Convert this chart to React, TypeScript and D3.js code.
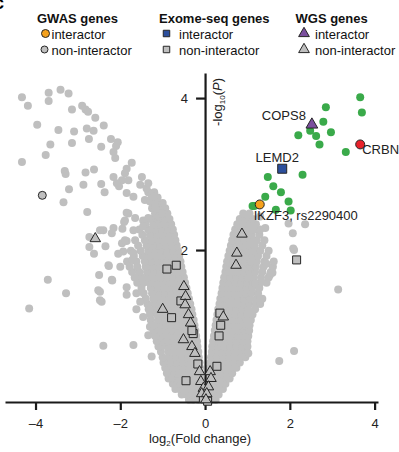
import { useEffect, useRef } from 'react';
import * as d3 from 'd3';

// left arm of the volcano, one row per -log10(P) level: [y, x values]
const grayLeftRows: [number, number[]][] = [
    [0.03, [-0.04, -0.16, -0.28, -0.38]],
    [0.1, [-0.06, -0.19, -0.31, -0.44, -0.55]],
    [0.17, [-0.07, -0.2, -0.33, -0.47, -0.6, -0.7]],
    [0.24, [-0.08, -0.22, -0.36, -0.5, -0.63, -0.76]],
    [0.31, [-0.1, -0.24, -0.38, -0.52, -0.66, -0.8, -0.86]],
    [0.38, [-0.11, -0.25, -0.39, -0.53, -0.67, -0.8, -0.9]],
    [0.45, [-0.12, -0.26, -0.4, -0.54, -0.68, -0.82, -0.94]],
    [0.52, [-0.13, -0.27, -0.41, -0.55, -0.69, -0.83, -0.98]],
    [0.59, [-0.15, -0.29, -0.43, -0.57, -0.71, -0.85, -1.0]],
    [0.66, [-0.16, -0.3, -0.44, -0.58, -0.72, -0.86, -1.04]],
    [0.73, [-0.18, -0.32, -0.46, -0.6, -0.74, -0.88, -1.02, -1.1]],
    [0.8, [-0.19, -0.33, -0.47, -0.61, -0.75, -0.89, -1.03, -1.14]],
    [0.87, [-0.21, -0.35, -0.49, -0.63, -0.77, -0.91, -1.05, -1.18]],
    [0.94, [-0.23, -0.37, -0.51, -0.65, -0.79, -0.93, -1.07, -1.22]],
    [1.01, [-0.25, -0.39, -0.53, -0.67, -0.81, -0.95, -1.09, -1.25]],
    [1.08, [-0.27, -0.41, -0.55, -0.69, -0.83, -0.97, -1.11, -1.28]],
    [1.15, [-0.3, -0.44, -0.58, -0.72, -0.86, -1.0, -1.14, -1.3]],
    [1.22, [-0.32, -0.46, -0.6, -0.74, -0.88, -1.02, -1.16, -1.33]],
    [1.29, [-0.35, -0.49, -0.63, -0.77, -0.91, -1.05, -1.19, -1.36]],
    [1.36, [-0.38, -0.52, -0.66, -0.8, -0.94, -1.08, -1.22, -1.4]],
    [1.43, [-0.41, -0.55, -0.69, -0.83, -0.97, -1.11, -1.25, -1.45, -1.62]],
    [1.5, [-0.44, -0.58, -0.72, -0.86, -1.0, -1.14, -1.28, -1.5]],
    [1.57, [-0.47, -0.61, -0.75, -0.89, -1.03, -1.17, -1.31, -1.45, -1.6]],
    [1.64, [-0.5, -0.64, -0.78, -0.92, -1.06, -1.2, -1.34, -1.5, -1.66]],
    [1.71, [-0.53, -0.67, -0.81, -0.95, -1.09, -1.23, -1.37, -1.55, -1.72]],
    [1.78, [-0.56, -0.7, -0.84, -0.98, -1.12, -1.26, -1.4, -1.6, -1.78]],
    [1.85, [-0.58, -0.72, -0.86, -1.0, -1.14, -1.28, -1.42, -1.62, -1.84]],
    [1.92, [-0.61, -0.75, -0.89, -1.03, -1.17, -1.31, -1.47, -1.68]],
    [1.99, [-0.64, -0.78, -0.92, -1.06, -1.2, -1.34, -1.52, -1.75]],
    [2.06, [-0.67, -0.81, -0.95, -1.09, -1.23, -1.38, -1.58]],
    [2.13, [-0.7, -0.84, -0.98, -1.12, -1.26, -1.42, -1.65]],
    [2.2, [-0.73, -0.87, -1.01, -1.15, -1.3, -1.48]],
    [2.27, [-0.76, -0.9, -1.04, -1.18, -1.34, -1.55]],
    [2.34, [-0.8, -0.94, -1.08, -1.22, -1.4]],
    [2.41, [-0.84, -0.98, -1.12, -1.28]],
    [2.48, [-0.89, -1.03, -1.18]],
    [2.55, [-0.94, -1.08, -1.25]],
    [2.62, [-1.0, -1.15]],
    [2.69, [-1.12, -1.26]],
    [2.76, [-1.2, -1.34]],
];

// right arm of the volcano
const grayRightRows: [number, number[]][] = [
    [0.03, [0.03, 0.15, 0.25]],
    [0.1, [0.05, 0.18, 0.32]],
    [0.17, [0.06, 0.19, 0.33, 0.42]],
    [0.24, [0.08, 0.21, 0.35, 0.48]],
    [0.31, [0.09, 0.22, 0.36, 0.5, 0.58]],
    [0.38, [0.1, 0.24, 0.38, 0.52, 0.64]],
    [0.45, [0.11, 0.25, 0.39, 0.53, 0.67, 0.74]],
    [0.52, [0.13, 0.27, 0.41, 0.55, 0.69, 0.82]],
    [0.59, [0.14, 0.28, 0.42, 0.56, 0.7, 0.84, 0.95]],
    [0.66, [0.16, 0.3, 0.44, 0.58, 0.72, 0.86, 0.98]],
    [0.73, [0.17, 0.31, 0.45, 0.59, 0.73, 0.87, 1.0]],
    [0.8, [0.19, 0.33, 0.47, 0.61, 0.75, 0.89, 1.0]],
    [0.87, [0.21, 0.35, 0.49, 0.63, 0.77, 0.91, 1.02]],
    [0.94, [0.23, 0.37, 0.51, 0.65, 0.79, 0.93, 1.04]],
    [1.01, [0.25, 0.39, 0.53, 0.67, 0.81, 0.95, 1.05]],
    [1.08, [0.27, 0.41, 0.55, 0.69, 0.83, 0.97, 1.08]],
    [1.15, [0.29, 0.43, 0.57, 0.71, 0.85, 0.99, 1.12]],
    [1.22, [0.31, 0.45, 0.59, 0.73, 0.87, 1.01, 1.18]],
    [1.29, [0.34, 0.48, 0.62, 0.76, 0.9, 1.04, 1.2, 1.3]],
    [1.36, [0.36, 0.5, 0.64, 0.78, 0.92, 1.06, 1.22, 1.35]],
    [1.43, [0.39, 0.53, 0.67, 0.81, 0.95, 1.09, 1.25]],
    [1.5, [0.41, 0.55, 0.69, 0.83, 0.97, 1.11, 1.28]],
    [1.57, [0.43, 0.57, 0.71, 0.85, 0.99, 1.13, 1.3, 1.45]],
    [1.64, [0.45, 0.59, 0.73, 0.87, 1.01, 1.15, 1.32, 1.5]],
    [1.71, [0.48, 0.62, 0.76, 0.9, 1.04, 1.18, 1.35, 1.55]],
    [1.78, [0.5, 0.64, 0.78, 0.92, 1.06, 1.2, 1.38, 1.6]],
    [1.85, [0.52, 0.66, 0.8, 0.94, 1.08, 1.22, 1.4, 1.62]],
    [1.92, [0.55, 0.69, 0.83, 0.97, 1.11, 1.25, 1.45]],
    [1.99, [0.58, 0.72, 0.86, 1.0, 1.14, 1.3, 1.5]],
    [2.06, [0.61, 0.75, 0.89, 1.03, 1.17, 1.35]],
    [2.13, [0.64, 0.78, 0.92, 1.06, 1.22, 1.4]],
    [2.2, [0.67, 0.81, 0.95, 1.1, 1.28]],
    [2.27, [0.71, 0.85, 0.99, 1.15, 1.3]],
    [2.34, [0.76, 0.9, 1.05, 1.2]],
    [2.41, [0.82, 0.96, 1.12]],
    [2.48, [0.9, 1.05]],
];

// scattered grey genes outside the dense arms
const graySparse: [number, number][] = [
    [-4.32, 4.01], [-4.18, 3.9], [-3.69, 4.07], [-3.69, 3.96], [-3.41, 4.11],
    [-3.22, 4.06], [-3.14, 3.85], [-2.9, 3.9], [-2.82, 3.85], [-2.76, 3.82],
    [-2.59, 3.74], [-3.96, 3.65], [-3.46, 3.58], [-3.09, 3.56], [-2.79, 3.6],
    [-2.63, 3.57], [-2.39, 3.64], [-3.14, 3.41], [-2.74, 3.46], [-2.45, 3.36],
    [-3.65, 3.39], [-3.76, 3.25], [-2.22, 3.46], [-2.06, 3.42], [-2.1, 3.37],
    [-2.16, 3.29], [-2.12, 3.21], [-4.32, 3.16], [-3.31, 3.04], [-3.29, 3.0],
    [-2.82, 3.02], [-2.62, 3.06], [-3.21, 2.8], [-2.87, 2.86], [-2.45, 2.87],
    [-2.37, 2.76], [-2.16, 2.96], [-2.03, 2.84], [-1.96, 2.92], [-1.89, 3.01],
    [-1.85, 3.07], [-1.73, 3.15], [-2.08, 2.88], [-1.85, 2.75], [-1.69, 2.7],
    [-1.81, 2.92], [-1.53, 2.86], [-1.38, 2.81], [-1.49, 2.96], [-1.34, 2.88],
    [-1.42, 2.66], [-1.3, 2.64], [-1.22, 2.7], [-1.18, 2.59], [-1.14, 2.53],
    [-1.81, 2.48], [-1.65, 2.42], [-1.89, 2.39], [-1.46, 2.39], [-1.34, 2.42],
    [-1.1, 2.44], [-1.02, 2.48], [-1.46, 2.31], [-1.69, 2.26], [-2.16, 2.29],
    [-2.4, 2.26], [-3.34, 2.63], [-2.78, 2.5], [-2.48, 2.26], [-2.73, 2.17],
    [-2.73, 2.04], [-2.62, 1.95], [-2.2, 2.22], [-1.95, 2.28], [-1.91, 2.37],
    [-1.85, 2.49], [-1.96, 2.09], [-1.85, 2.12], [-2.27, 1.79], [-2.5, 1.67],
    [-2.19, 1.6], [-3.71, 1.61], [-2.52, 1.47], [-3.28, 1.43], [-2.44, 1.32],
    [-1.85, 1.51], [-4.15, 1.23], [-1.89, 2.13], [-1.93, 1.98], [-1.69, 1.96],
    [-2.28, 1.8], [-2.0, 1.78], [-2.48, 1.45], [-2.2, 1.61], [-1.85, 1.41],
    [-2.48, 1.34], [-1.53, 1.32], [-1.46, 1.12], [-1.3, 1.21], [-1.3, 0.99],
    [-2.4, 0.74], [-1.69, 0.75], [-1.26, 0.6], [-1.34, 0.88], [-1.22, 1.01],
    [-1.62, 1.22], [-2.05, 1.95], [-1.72, 1.87], [-2.35, 2.05],
    [1.53, 1.67], [1.59, 1.7], [1.31, 1.34], [1.1, 1.19], [1.02, 0.64],
    [1.75, 0.54], [2.1, 0.67], [1.18, 1.56], [1.45, 1.82], [2.1, 2.0],
    [2.07, 2.22], [2.08, 2.02], [2.36, 2.34], [3.14, 1.48], [1.02, 2.46],
    [1.3, 2.44], [1.97, 2.35], [1.42, 2.29], [1.1, 2.31],
];

// genes with significant change (green)
const significant: [number, number][] = [
    [3.66, 4.01], [3.7, 3.81], [2.85, 3.88], [2.79, 3.69], [2.97, 3.55],
    [2.62, 3.5], [2.48, 3.57], [2.2, 3.51], [2.7, 3.39], [3.32, 3.29],
    [2.3, 2.99], [1.48, 2.96], [1.61, 2.84], [1.79, 2.76], [1.42, 2.7],
    [1.16, 2.58], [1.12, 2.58], [1.67, 2.53], [1.97, 2.64], [2.02, 2.52],
];

const gwasInteractor: [number, number][] = [[1.29, 2.6]];
const gwasNonInteractor: [number, number][] = [[-3.84, 2.72]];
const exomeInteractor: [number, number][] = [[1.82, 3.07]];
const exomeNonInteractor: [number, number][] = [
    [-0.9, 1.75], [-0.68, 1.8], [-0.57, 1.33], [-0.79, 1.11], [-0.28, 0.9],
    [-0.31, 0.94], [-0.17, 0.5], [-0.45, 0.28], [-0.04, 0.05], [0.06, 0.01],
    [0.35, 1.17], [0.37, 1.01], [0.33, 0.87], [0.28, 0.47], [2.16, 1.87],
];
const wgsInteractor: [number, number][] = [[2.52, 3.65]];
const wgsNonInteractor: [number, number][] = [
    [-2.59, 2.15], [-0.5, 1.52], [-0.46, 1.39], [-0.47, 1.28], [-1.0, 1.22],
    [-0.39, 1.15], [-0.34, 1.04], [-0.51, 0.82], [-0.31, 0.73], [-0.24, 0.64],
    [-0.13, 0.4], [-0.1, 0.27], [-0.04, 0.18], [-0.08, 0.11], [0.12, 0.4],
    [0.14, 0.31], [0.08, 0.2], [0.04, 0.11], [0.02, 0.03], [0.43, 1.12],
    [0.75, 1.96], [0.73, 1.8], [0.87, 2.21],
];
const crbn: [number, number][] = [[3.66, 3.39]];

const geneNames = ['COPS8', 'CRBN', 'LEMD2', 'IKZF3, rs2290400'];
const geneValues: [number, number][] = [[2.52, 3.65], [3.66, 3.39], [1.82, 3.07], [1.29, 2.6]];

const xTicks = [-4, -2, 0, 2, 4];
const yTicks = [2, 4];

const font = "'Liberation Sans', Arial, Helvetica, sans-serif";
const grey = '#bfbfbf';
const green = '#3aaa4a';
const edge = '#262626';

const width = 399;
const height = 452;

const x = d3.scaleLinear().domain([-4.72, 4.08]).range([5, 378]);
const y = d3.scaleLinear().domain([0, 4.33]).range([402, 73]);

const App = () => {
    const svgRef = useRef<SVGSVGElement>(null);

    useEffect(() => {
        const svg = d3.select(svgRef.current);
        svg.selectAll('*').remove();
        svg.style('font-family', font);

        const grayPoints = [
            ...grayLeftRows.flatMap(([yv, xs]) => xs.map(xv => [xv, yv])),
            ...grayRightRows.flatMap(([yv, xs]) => xs.map(xv => [xv, yv])),
            ...graySparse,
        ];

        // background genes
        svg.append('g')
            .selectAll('circle')
            .data(grayPoints)
            .join('circle')
            .attr('cx', d => x(d[0]))
            .attr('cy', d => y(d[1]))
            .attr('r', 4)
            .attr('fill', grey);

        svg.append('g')
            .selectAll('circle')
            .data(significant)
            .join('circle')
            .attr('cx', d => x(d[0]))
            .attr('cy', d => y(d[1]))
            .attr('r', 4)
            .attr('fill', green);

        // axes
        const xAxis = svg
            .append('g')
            .attr('transform', `translate(0,${y(0)})`)
            .call(
                d3
                    .axisBottom(x)
                    .tickValues(xTicks)
                    .tickSize(8)
                    .tickSizeOuter(0)
                    .tickPadding(9)
                    .tickFormat(d => ((d as number) < 0 ? '\u2013' + Math.abs(d as number) : String(d)))
            );
        xAxis.select('.domain').attr('stroke', '#1a1a1a').attr('stroke-width', 2.2);
        xAxis.selectAll('line').attr('stroke', '#1a1a1a').attr('stroke-width', 2.2);
        xAxis.selectAll('text').attr('font-size', 13).attr('fill', '#222').attr('font-family', font);

        const yAxis = svg
            .append('g')
            .attr('transform', `translate(${x(0)},0)`)
            .call(
                d3
                    .axisLeft(y)
                    .tickValues(yTicks)
                    .tickSize(9)
                    .tickSizeOuter(0)
                    .tickPadding(8)
                    .tickFormat(d => String(d))
            );
        yAxis.select('.domain').attr('stroke', '#1a1a1a').attr('stroke-width', 2.2);
        yAxis.selectAll('line').attr('stroke', '#1a1a1a').attr('stroke-width', 2.2);
        yAxis.selectAll('text').attr('font-size', 13).attr('fill', '#222').attr('font-family', font);

        // gene markers
        const square = (size: number) => d3.symbol(d3.symbolSquare, size)();
        const triangle = (size: number) => d3.symbol(d3.symbolTriangle, size)();

        const addShapes = (
            data: [number, number][],
            path: string | null,
            fill: string
        ) =>
            svg.append('g')
                .selectAll('path')
                .data(data)
                .join('path')
                .attr('d', path)
                .attr('transform', d => `translate(${x(d[0])},${y(d[1])})`)
                .attr('fill', fill)
                .attr('stroke', edge)
                .attr('stroke-width', 1);

        addShapes(exomeNonInteractor, square(64), grey);
        addShapes(wgsNonInteractor, triangle(48), grey);

        svg.append('g')
            .selectAll('circle')
            .data(gwasNonInteractor)
            .join('circle')
            .attr('cx', d => x(d[0]))
            .attr('cy', d => y(d[1]))
            .attr('r', 4)
            .attr('fill', grey)
            .attr('stroke', edge);

        addShapes(exomeInteractor, square(81), '#2c4f9c');
        addShapes(wgsInteractor, triangle(60), '#7b4f9e');

        svg.append('g')
            .selectAll('circle')
            .data(gwasInteractor)
            .join('circle')
            .attr('cx', d => x(d[0]))
            .attr('cy', d => y(d[1]))
            .attr('r', 4.5)
            .attr('fill', '#f5a11c')
            .attr('stroke', edge);

        svg.append('g')
            .selectAll('circle')
            .data(crbn)
            .join('circle')
            .attr('cx', d => x(d[0]))
            .attr('cy', d => y(d[1]))
            .attr('r', 4.5)
            .attr('fill', '#e8222b')
            .attr('stroke', edge);

        // gene names next to their markers
        const labelPlace: Record<string, [number, number, string]> = {
            COPS8: [-6, -5, 'end'],
            CRBN: [2, 10, 'start'],
            LEMD2: [-5, -7, 'middle'],
            'IKZF3, rs2290400': [-6, 16, 'start'],
        };
        svg.append('g')
            .selectAll('text')
            .data(geneNames)
            .join('text')
            .attr('x', (d, i) => x(geneValues[i][0]) + labelPlace[d][0])
            .attr('y', (d, i) => y(geneValues[i][1]) + labelPlace[d][1])
            .attr('text-anchor', d => labelPlace[d][2])
            .attr('font-size', 13)
            .attr('fill', '#222')
            .text(d => d);

        // axis titles
        const xt = svg.append('text')
            .attr('x', 200)
            .attr('y', 443)
            .attr('text-anchor', 'middle')
            .attr('font-size', 13)
            .attr('fill', '#222');
        xt.append('tspan').text('log');
        xt.append('tspan').attr('font-size', 8).attr('dy', 3).text('2');
        xt.append('tspan').attr('dy', -3).text('(Fold change)');

        const yt = svg.append('text')
            .attr('transform', `translate(222,78) rotate(-90)`)
            .attr('text-anchor', 'end')
            .attr('font-size', 13)
            .attr('fill', '#222');
        yt.append('tspan').text('-log');
        yt.append('tspan').attr('font-size', 8).attr('dy', 3).text('10');
        yt.append('tspan').attr('dy', -3).text('(');
        yt.append('tspan').attr('font-style', 'italic').text('P');
        yt.append('tspan').text(')');

        // panel letter, cut at the edge
        svg.append('text')
            .attr('x', -6)
            .attr('y', 9)
            .attr('font-size', 18)
            .attr('font-weight', 'bold')
            .text('c');

        // legend
        const legendCols = [
            { title: 'GWAS genes', x: 37, markX: 45.5, textX: 51.5 },
            { title: 'Exome-seq genes', x: 159, markX: 166.5, textX: 179 },
            { title: 'WGS genes', x: 295.5, markX: 304, textX: 315 },
        ];
        const legend = svg.append('g').attr('font-size', 13).attr('fill', '#111');
        legendCols.forEach((c, i) => {
            legend.append('text')
                .attr('x', c.x)
                .attr('y', 23)
                .attr('font-weight', 'bold')
                .text(c.title);
            ['interactor', 'non-interactor'].forEach((label, j) => {
                const cy = 33.5 + j * 16;
                const fill =
                    j === 1 ? grey : ['#f5a11c', '#2c4f9c', '#7b4f9e'][i];
                if (i === 0) {
                    legend.append('circle')
                        .attr('cx', c.markX - j * 1)
                        .attr('cy', cy)
                        .attr('r', j === 0 ? 4 : 3.5)
                        .attr('fill', fill)
                        .attr('stroke', edge);
                } else {
                    legend.append('path')
                        .attr('d', i === 1 ? square(42) : triangle(50))
                        .attr('transform', `translate(${c.markX},${cy})`)
                        .attr('fill', fill)
                        .attr('stroke', edge);
                }
                legend.append('text')
                    .attr('x', c.textX)
                    .attr('y', cy + 5)
                    .attr('font-weight', 'normal')
                    .text(label);
            });
        });
    }, []);

    return (
        <svg
            ref={svgRef}
            width={width}
            height={height}
            style={{ position: 'absolute', left: 0, top: 0, background: '#fff' }}
        />
    );
};

export default App;
